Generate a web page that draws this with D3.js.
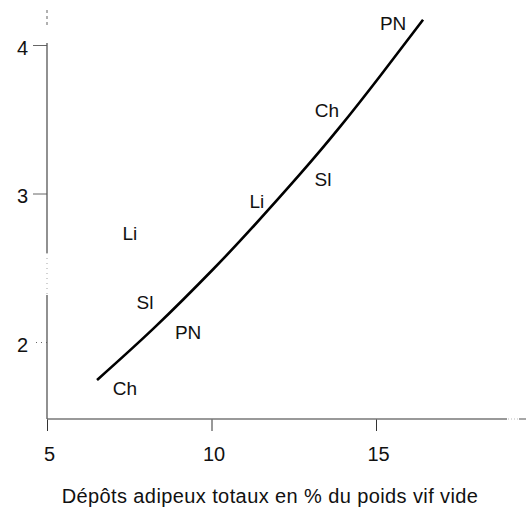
<!DOCTYPE html>
<html>
<head>
<meta charset="utf-8">
<script src="https://cdn.jsdelivr.net/npm/d3@7"></script>
<style>
  body { margin: 0; background: #fff; }
  svg { font-family: "Liberation Sans", Arial, Helvetica, sans-serif; }
</style>
</head>
<body>
<svg class="chart" width="526" height="509"></svg>
<script>
// curve
const curveX = [6.52, 8.28, 10.05, 11.23, 12.69, 13.91, 15.12, 16.43];
const curveY = [1.744, 2.10, 2.49, 2.768, 3.13, 3.45, 3.79, 4.17];

// breed labels
const labelText = ['PN', 'Ch', 'Sl', 'Li', 'Li', 'Sl', 'PN', 'Ch'];
const labelX = [15.52, 13.51, 13.39, 11.38, 7.52, 7.98, 9.29, 7.37];
const labelY = [4.148, 3.562, 3.091, 2.943, 2.734, 2.269, 2.067, 1.690];

const xTicks = [5, 10, 15];
const yTicks = [2, 3, 4];
const xTitle = 'Dépôts adipeux totaux en % du poids vif vide';

const svg = d3.select('svg.chart');

const xScale = d3.scaleLinear().domain([5, 15]).range([47, 376]);
const yScale = d3.scaleLinear().domain([2, 4]).range([342, 45]);
const axisY = 419;

// x axis
const xAxis = svg.append('g')
    .attr('transform', `translate(0, ${axisY})`)
    .call(d3.axisBottom(xScale).tickValues(xTicks).tickFormat(d3.format('d'))
        .tickSize(12).tickPadding(16).tickSizeOuter(0));
xAxis.select('.domain').remove();
xAxis.selectAll('.tick line').attr('stroke', '#333');
xAxis.selectAll('.tick text')
    .attr('font-size', 20).attr('fill', '#111').attr('dx', 2);
xAxis.attr('font-family', null);
// axis line with the scan's broken tail
svg.append('line').attr('x1', 47).attr('x2', 507).attr('y1', axisY).attr('y2', axisY)
    .attr('stroke', '#777').attr('stroke-width', 1.3);
svg.append('line').attr('x1', 508).attr('x2', 519).attr('y1', axisY).attr('y2', axisY)
    .attr('stroke', '#bbb').attr('stroke-dasharray', '1,2');
svg.append('line').attr('x1', 519).attr('x2', 526).attr('y1', axisY).attr('y2', axisY)
    .attr('stroke', '#777').attr('stroke-width', 1.3);

// y axis
const yAxis = svg.append('g')
    .attr('transform', 'translate(47, 0)')
    .call(d3.axisLeft(yScale).tickValues(yTicks).tickFormat(d3.format('d'))
        .tickSize(14).tickPadding(5).tickSizeOuter(0));
yAxis.select('.domain').remove();
yAxis.attr('font-family', null);
yAxis.selectAll('.tick line').attr('stroke', '#666')
    .attr('stroke-dasharray', d => d === 2 ? '1,4' : null);
yAxis.selectAll('.tick text')
    .attr('font-size', 20).attr('fill', '#111').attr('dy', '0.47em');

const yLine = [[10, 28, '3,3', '#888'], [43, 253, null, '#555'], [253, 295, '1,4', '#bbb'], [295, axisY, null, '#555']];
svg.selectAll('line.yseg').data(yLine).enter().append('line')
    .attr('class', 'yseg')
    .attr('x1', 47).attr('x2', 47)
    .attr('y1', d => d[0]).attr('y2', d => d[1])
    .attr('stroke', d => d[3])
    .attr('stroke-width', 1.3)
    .attr('stroke-dasharray', d => d[2]);

// curve
const line = d3.line()
    .x(d => xScale(d[0]))
    .y(d => yScale(d[1]))
    .curve(d3.curveNatural);
svg.append('path')
    .datum(d3.zip(curveX, curveY))
    .attr('d', line)
    .attr('fill', 'none')
    .attr('stroke', '#000')
    .attr('stroke-width', 2.6);

// labels
svg.selectAll('text.lab').data(labelText).enter().append('text')
    .attr('class', 'lab')
    .attr('x', (d, i) => xScale(labelX[i]))
    .attr('y', (d, i) => yScale(labelY[i]))
    .attr('text-anchor', 'middle')
    .attr('dominant-baseline', 'central')
    .attr('font-size', 19)
    .attr('fill', '#111')
    .text(d => d);

// x title
svg.append('text')
    .attr('x', 270).attr('y', 503)
    .attr('text-anchor', 'middle')
    .attr('font-size', 20)
    .attr('letter-spacing', 0.4)
    .attr('fill', '#111')
    .text(xTitle);
</script>
</body>
</html>
